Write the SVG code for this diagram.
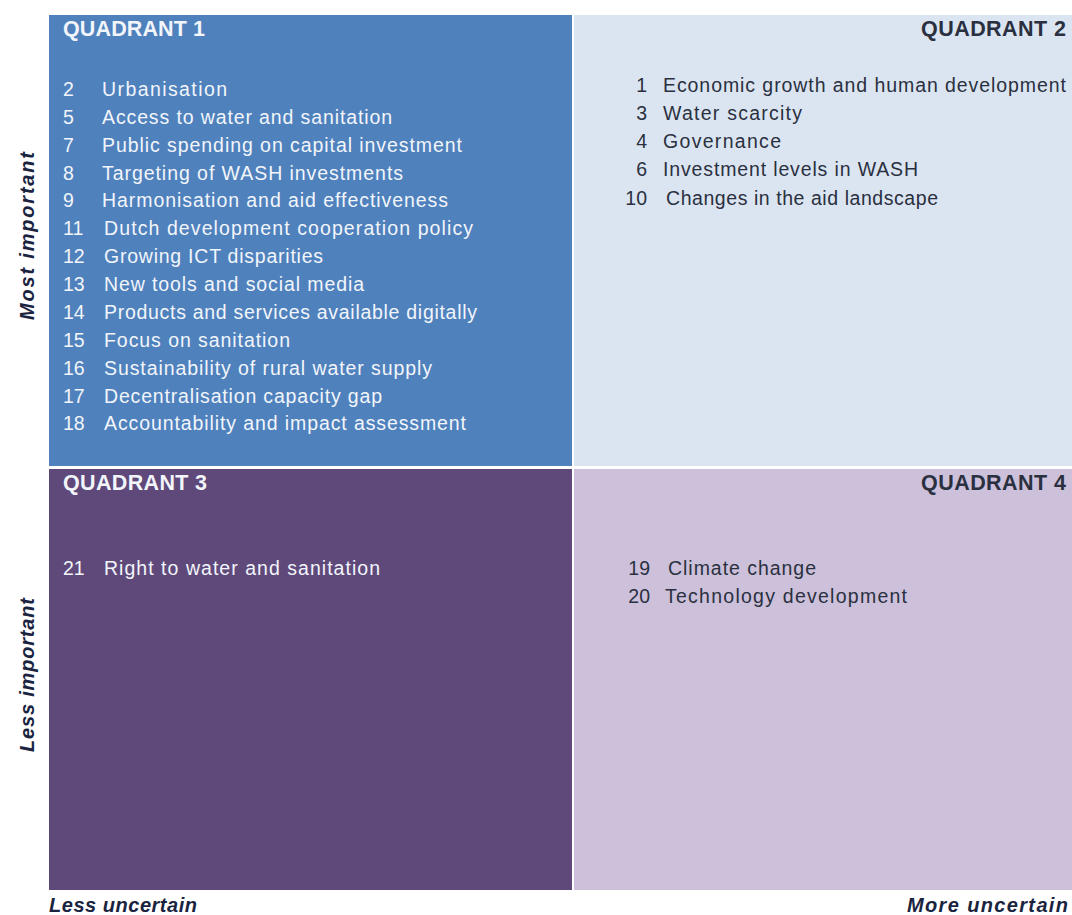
<svg xmlns="http://www.w3.org/2000/svg" width="1072" height="915" viewBox="0 0 1072 915">
<style>
.t{font-family:"Liberation Sans",Arial,sans-serif;font-size:19.5px}
.h{font-family:"Liberation Sans",Arial,sans-serif;font-size:21.5px;font-weight:bold}
.ax{font-family:"Liberation Sans",Arial,sans-serif;font-size:20px;font-weight:bold;font-style:italic;fill:#1a2440}
.w{fill:#f2f5fa}
.d{fill:#2a3040}
</style>
<rect width="1072" height="915" fill="#ffffff"/>
<g id="q1">
<rect x="49" y="15" width="523" height="451" fill="#4f81bd"/>
<text class="h w" x="63" y="36" textLength="142">QUADRANT 1</text>
<g class="t w">
<text x="63" y="96">2</text><text x="102" y="96" textLength="125">Urbanisation</text>
<text x="63" y="124">5</text><text x="102" y="124" textLength="290">Access to water and sanitation</text>
<text x="63" y="152">7</text><text x="102" y="152" textLength="360">Public spending on capital investment</text>
<text x="63" y="180">8</text><text x="102" y="180" textLength="301">Targeting of WASH investments</text>
<text x="63" y="207">9</text><text x="102" y="207" textLength="346">Harmonisation and aid effectiveness</text>
<text x="63" y="235">11</text><text x="104" y="235" textLength="369">Dutch development cooperation policy</text>
<text x="63" y="263">12</text><text x="104" y="263" textLength="219">Growing ICT disparities</text>
<text x="63" y="291">13</text><text x="104" y="291" textLength="260">New tools and social media</text>
<text x="63" y="319">14</text><text x="104" y="319" textLength="373">Products and services available digitally</text>
<text x="63" y="347">15</text><text x="104" y="347" textLength="186">Focus on sanitation</text>
<text x="63" y="375">16</text><text x="104" y="375" textLength="328">Sustainability of rural water supply</text>
<text x="63" y="403">17</text><text x="104" y="403" textLength="278">Decentralisation capacity gap</text>
<text x="63" y="430">18</text><text x="104" y="430" textLength="362">Accountability and impact assessment</text>
</g>
</g>
<g id="q2">
<rect x="574" y="15" width="498" height="451" fill="#dbe5f1"/>
<text class="h d" x="921" y="36" textLength="145">QUADRANT 2</text>
<g class="t d">
<text x="647" y="92" text-anchor="end">1</text><text x="663" y="92" textLength="403">Economic growth and human development</text>
<text x="647" y="120" text-anchor="end">3</text><text x="663" y="120" textLength="139">Water scarcity</text>
<text x="647" y="148" text-anchor="end">4</text><text x="663" y="148" textLength="118">Governance</text>
<text x="647" y="176" text-anchor="end">6</text><text x="663" y="176" textLength="255">Investment levels in WASH</text>
<text x="647" y="205" text-anchor="end">10</text><text x="666" y="205" textLength="272">Changes in the aid landscape</text>
</g>
</g>
<g id="q3">
<rect x="49" y="469" width="523" height="421" fill="#5f497a"/>
<text class="h w" x="63" y="490" textLength="144">QUADRANT 3</text>
<g class="t w">
<text x="63" y="575">21</text><text x="104" y="575" textLength="276">Right to water and sanitation</text>
</g>
</g>
<g id="q4">
<rect x="574" y="469" width="498" height="421" fill="#ccc0da"/>
<text class="h d" x="921" y="490" textLength="145">QUADRANT 4</text>
<g class="t d">
<text x="650" y="575" text-anchor="end">19</text><text x="668" y="575" textLength="148">Climate change</text>
<text x="650" y="603" text-anchor="end">20</text><text x="665" y="603" textLength="242">Technology development</text>
</g>
</g>
<g id="axes">
<text class="ax" transform="translate(34,236) rotate(-90)" text-anchor="middle" textLength="168">Most important</text>
<text class="ax" transform="translate(34,675) rotate(-90)" text-anchor="middle" textLength="154">Less important</text>
<text class="ax" x="49" y="912" textLength="148">Less uncertain</text>
<text class="ax" x="907" y="912" textLength="161">More uncertain</text>
</g>
</svg>
